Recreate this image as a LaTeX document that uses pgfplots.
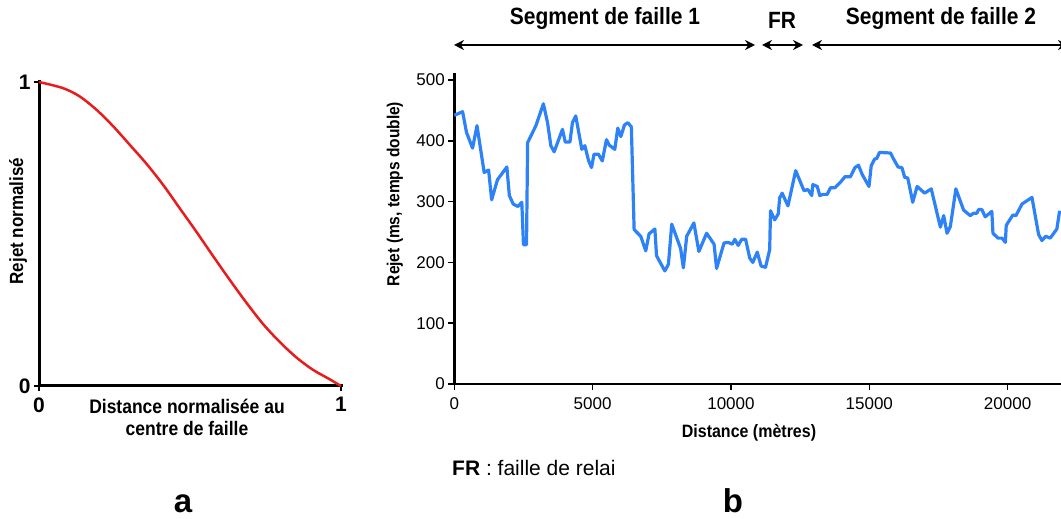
\documentclass[border=0pt]{standalone}
\usepackage{fontspec}
\setmainfont{Liberation Sans}
\usepackage{graphicx}
\usepackage{pgfplots}
\pgfplotsset{compat=1.18}
\usetikzlibrary{arrows.meta}
\definecolor{cred}{RGB}{232,28,28}
\definecolor{cblue}{RGB}{45,130,248}
\newcommand{\tall}[1]{\scalebox{1}[1.12]{#1}}
\begin{document}
\begin{tikzpicture}[x=1pt,y=1pt]
\path[use as bounding box] (0,0) rectangle (1061,519);
\clip (0,0) rectangle (1061,519);
% ---------- panel a
\begin{axis}[
 at={(39pt,133pt)}, anchor=south west, scale only axis, width=302pt, height=304pt,
 xmin=0,xmax=1,ymin=0,ymax=1, enlargelimits=false,
 axis x line=bottom, axis y line=left,
 axis line style={-, line width=3pt, black, line cap=rect},
 xtick={0,1}, ytick={0,1}, tick align=outside, major tick length=5pt,
 tick style={line width=2pt,black},
 /pgf/number format/assume math mode=true,
 tick label style={font=\bfseries\fontsize{21}{21}\selectfont},
 xticklabel style={yshift=-3pt},
 clip=false,
]
\addplot[cred, line width=2.5pt, smooth] coordinates {
(0,1) (0.079,0.980) (0.134,0.953) (0.190,0.909) (0.245,0.855) (0.300,0.794)
(0.355,0.732) (0.410,0.663) (0.465,0.586) (0.520,0.509) (0.576,0.428) (0.631,0.350)
(0.686,0.275) (0.741,0.205) (0.796,0.146) (0.851,0.095) (0.906,0.054) (0.961,0.023) (1,0)
};
\end{axis}
% ---------- panel b
\begin{axis}[
 at={(454.3pt,135pt)}, anchor=south west, scale only axis, width=606.7pt, height=310pt,
 xmin=0,xmax=21930,ymin=0,ymax=510, enlargelimits=false,
 axis x line=bottom, axis y line=left,
 axis line style={-, line width=2.5pt, black, line cap=rect},
 xtick={0,5000,10000,15000,20000}, ytick={0,100,200,300,400,500},
 tick align=outside, major tick length=6pt, tick style={line width=1.5pt,black},
 /pgf/number format/1000 sep={}, scaled ticks=false,
 /pgf/number format/assume math mode=true,
 tick label style={font=\fontsize{17}{17}\selectfont},
 xticklabel style={yshift=-4pt},
 clip=false,
]
\addplot[cblue, line width=3.2pt, line join=round] coordinates {
(0,442) (300,448) (440,414) (660,388) (820,425) (1080,348) (1240,352) (1350,303)
(1560,336) (1900,357) (1990,310) (2130,296) (2300,292) (2440,299) (2500,229) (2610,229)
(2650,397) (2950,425) (3220,461) (3370,430) (3490,392) (3610,382) (3910,419) (4010,398)
(4180,398) (4270,430) (4390,441) (4610,386) (4720,392) (4850,368) (4960,356) (5050,378)
(5210,378) (5350,367) (5500,402) (5600,393) (5800,386) (5910,421) (6020,407) (6150,426)
(6270,430) (6400,423) (6500,254) (6740,243) (6920,219) (7040,247) (7250,255) (7310,211)
(7610,186) (7740,197) (7860,263) (8100,233) (8180,223) (8280,191) (8400,243) (8660,265)
(8840,218) (9120,248) (9390,230) (9480,190) (9750,232) (9900,233) (10050,230) (10140,238)
(10260,228) (10390,238) (10530,238) (10680,207) (10790,200) (10950,217) (11090,194) (11250,192)
(11400,221) (11430,285) (11580,270) (11710,280) (11760,306) (11850,314) (12060,293) (12340,351)
(12640,318) (12780,320) (12920,310) (12960,328) (13120,325) (13210,310) (13330,312) (13480,312)
(13600,323) (13760,323) (13960,332) (14120,341) (14320,341) (14480,356) (14610,360) (14740,345)
(14990,325) (15070,359) (15190,370) (15270,371) (15370,381) (15770,380) (15880,370) (16040,357)
(16180,356) (16280,340) (16390,339) (16570,299) (16730,325) (17000,314) (17240,321) (17570,258)
(17690,277) (17810,248) (17930,259) (18130,321) (18410,286) (18650,277) (18770,281) (18890,281)
(18950,287) (19070,287) (19190,275) (19430,284) (19470,248) (19650,240) (19800,240) (19920,233)
(19950,261) (20190,278) (20300,277) (20520,296) (20880,307) (21120,246) (21240,236) (21380,243)
(21540,240) (21780,255) (21880,285)
};
\end{axis}
% ---------- labels
\node[rotate=90, font=\bfseries\fontsize{17}{17}\selectfont] at (18,298) {\tall{Rejet normalisé}};
\node[font=\bfseries\fontsize{17.5}{17.5}\selectfont] at (187,113) {\tall{Distance normalisée au}};
\node[font=\bfseries\fontsize{17.5}{17.5}\selectfont] at (187,91) {\tall{centre de faille}};
\node[rotate=90, font=\bfseries\fontsize{15.5}{15.5}\selectfont] at (395,325) {\tall{Rejet (ms, temps double)}};
\node[font=\bfseries\fontsize{16}{16}\selectfont] at (749,86) {\tall{Distance (mètres)}};
\node[anchor=west, inner sep=0pt, font=\fontsize{21}{21}\selectfont] at (452,51) {\textbf{FR} : faille de relai};
\node[anchor=base, inner sep=0pt, font=\bfseries\fontsize{33}{33}\selectfont] at (183,6) {a};
\node[anchor=base, inner sep=0pt, font=\bfseries\fontsize{33}{33}\selectfont] at (733,6) {b};
\node[font=\bfseries\fontsize{21}{21}\selectfont] at (605,501) {\tall{Segment de faille 1}};
\node[font=\bfseries\fontsize{21}{21}\selectfont] at (782,499) {\tall{FR}};
\node[font=\bfseries\fontsize{21}{21}\selectfont] at (941,501) {\tall{Segment de faille 2}};
\draw[line width=1.8pt, {Stealth[length=10pt,width=10pt]}-{Stealth[length=10pt,width=10pt]}] (454,474) -- (755,474);
\draw[line width=1.8pt, {Stealth[length=10pt,width=10pt]}-{Stealth[length=10pt,width=10pt]}] (762,474) -- (803,474);
\draw[line width=1.8pt, {Stealth[length=10pt,width=10pt]}-{Stealth[length=10pt,width=10pt]}] (812,474) -- (1068,474);
\end{tikzpicture}
\end{document}
